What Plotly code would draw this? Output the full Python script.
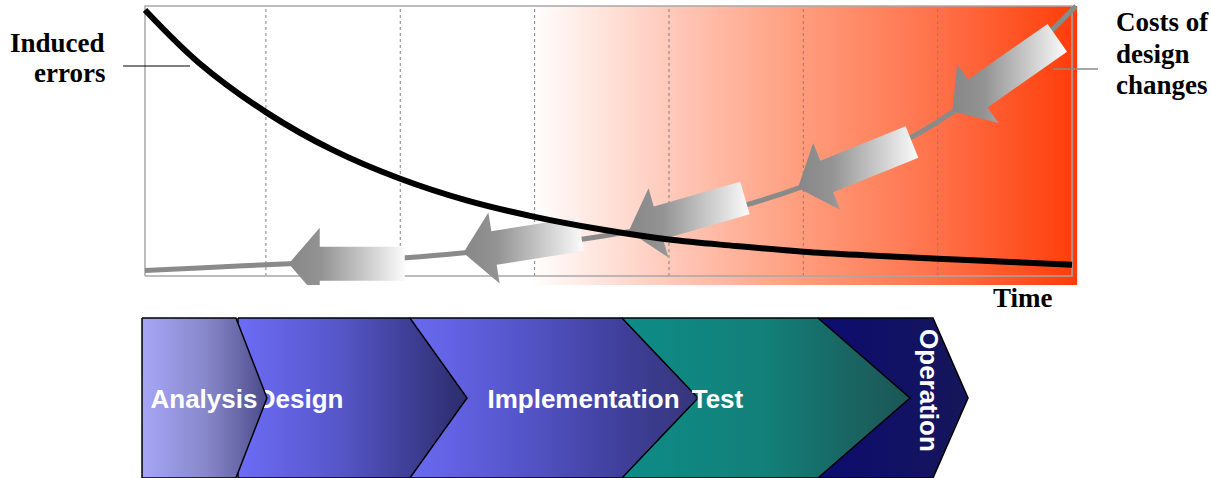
import numpy as np
import plotly.graph_objects as go

# ---------------- data ----------------
time = [0.1, 0.5, 1.0, 1.5, 2.0, 2.5, 3.0, 3.5, 4.0, 4.5, 5.0, 5.5, 6.0, 6.5, 7.0]
induced_errors = [0.985, 0.79, 0.607, 0.466, 0.36, 0.279, 0.219, 0.172, 0.135,
                  0.111, 0.09, 0.076, 0.064, 0.053, 0.042]

cost_time = [0.1, 0.5, 1.0, 1.5, 2.0, 2.5, 3.0, 3.5, 4.0, 4.5, 5.0, 5.5, 6.0, 6.5, 7.03]
design_change_costs = [0.020, 0.030, 0.042, 0.053, 0.066, 0.087, 0.112, 0.147, 0.193,
                       0.253, 0.332, 0.436, 0.571, 0.749, 1.0]

grid_time = [1, 2, 3, 4, 5, 6]
frame_time = [0.1, 7.0]
cost_zone_time = [2.97, 7.04]

arrow_tip_time = [1.17, 2.47, 3.70, 4.96, 6.11]
arrow_angle_deg = [0, 9, 16, 22, 35]
arrow_length_px = [116, 119, 121, 123, 128]

phases = ["Analysis", "Design", "Implementation", "Test", "Operation"]
phase_start = [0.078, 0.792, 2.072, 3.650, 5.109]
phase_end = [0.777, 2.072, 3.650, 5.109, 5.965]
phase_tip = [1.008, 2.497, 4.216, 5.794, 6.226]
phase_label_time = [0.539, 1.255, 3.364, 4.361, 5.935]
phase_colors = [
    [[0, '#a6a6f6'], [0.5, '#8888cc'], [0.75, '#6c6cac'], [1, '#4a4a8a']],
    [[0, '#6c6cf6'], [0.45, '#5656c8'], [0.7, '#42429e'], [1, '#2c2c6c']],
    [[0, '#6a6af2'], [0.4, '#5454c8'], [0.75, '#3e3e98'], [1, '#36367c']],
    [[0, '#0e8c88'], [0.5, '#128078'], [0.8, '#1a6462'], [1, '#1c5656']],
    [[0, '#0c0c70'], [1, '#16165a']],
]

# ---------------- layout geometry ----------------
FIG_W, FIG_H = 1211, 478
X_RANGE = [0.08, 7.04]
Y_RANGE = [-0.0333, 1.0074]
X_DOM_PX = [142.3, 1077.4]
Y_DOM_PX = [4.0, 285.0]          # top, bottom (pixels from top)
PX_PER_T = (X_DOM_PX[1] - X_DOM_PX[0]) / (X_RANGE[1] - X_RANGE[0])
PX_PER_Y = (Y_DOM_PX[1] - Y_DOM_PX[0]) / (Y_RANGE[1] - Y_RANGE[0])

X2_RANGE = [X_RANGE[0] - X_DOM_PX[0] / PX_PER_T,
            X_RANGE[1] + (FIG_W - X_DOM_PX[1]) / PX_PER_T]
Y2_TOP_PX = 316
Y2_RANGE = [0, (FIG_H - Y2_TOP_PX) / 160.0]


def px(xp):
    return xp / FIG_W


def py(yp):
    return 1 - yp / FIG_H


fig = go.Figure()

# red "cost" zone
fig.add_trace(go.Scatter(
    x=[cost_zone_time[0], cost_zone_time[1], cost_zone_time[1], cost_zone_time[0], cost_zone_time[0]],
    y=[Y_RANGE[0], Y_RANGE[0], 1.0, 1.0, Y_RANGE[0]],
    mode='lines', line=dict(width=0), fill='toself',
    fillgradient=dict(type='horizontal',
                      colorscale=[[0, '#ffffff'], [0.25, '#ffcabb'], [0.5, '#ff9c7c'],
                                  [0.75, '#ff7048'], [1, '#ff3c08']]),
    hoverinfo='skip', showlegend=False))

# dashed grid
gx, gy = [], []
for g in grid_time:
    gx += [g, g, None]
    gy += [0, 1, None]
fig.add_trace(go.Scatter(x=gx, y=gy, mode='lines',
                         line=dict(color='#808080', width=1, dash='3px,3px'),
                         hoverinfo='skip', showlegend=False))

# frame
fig.add_trace(go.Scatter(
    x=[frame_time[0], frame_time[0], frame_time[1], frame_time[1], frame_time[0]],
    y=[0, 1, 1, 0, 0], mode='lines',
    line=dict(color='#a8a8a8', width=1.5), hoverinfo='skip', showlegend=False))

# costs of design changes
fig.add_trace(go.Scatter(x=cost_time, y=design_change_costs, mode='lines',
                         line=dict(color='#8a8a8a', width=5, shape='spline'),
                         hoverinfo='skip', showlegend=False))

# arrows
HEAD_LEN, HEAD_HALF, SHAFT_HALF = 31, 36, 17
for t, ang, L in zip(arrow_tip_time, arrow_angle_deg, arrow_length_px):
    ty = float(np.interp(t, cost_time, design_change_costs))
    local = np.array([[0, 0], [HEAD_LEN, HEAD_HALF], [HEAD_LEN, SHAFT_HALF], [L, SHAFT_HALF],
                      [L, -SHAFT_HALF], [HEAD_LEN, -SHAFT_HALF], [HEAD_LEN, -HEAD_HALF], [0, 0]],
                     dtype=float)
    a = np.radians(ang)
    rot = np.array([[np.cos(a), -np.sin(a)], [np.sin(a), np.cos(a)]])
    pts = local @ rot.T
    xs = t + pts[:, 0] / PX_PER_T
    ys = ty + pts[:, 1] / PX_PER_Y
    fig.add_trace(go.Scatter(
        x=xs, y=ys, mode='lines', line=dict(width=0), fill='toself',
        fillgradient=dict(type='horizontal',
                          colorscale=[[0, '#878787'], [0.28, '#939393'], [1, '#fbfbfb']]),
        hoverinfo='skip', showlegend=False))

# induced errors
fig.add_trace(go.Scatter(x=time, y=induced_errors, mode='lines',
                         line=dict(color='black', width=6, shape='spline'),
                         hoverinfo='skip', showlegend=False))

# ---------------- phase chevrons ----------------
label_font = dict(family='Liberation Sans, Arial, sans-serif',
                  size=26, color='white', weight='bold')


def chevron(i):
    s, e, tp = phase_start[i], phase_end[i], phase_tip[i]
    fig.add_trace(go.Scatter(
        x=[s, e, tp, e, s, s], y=[1, 1, 0.5, 0, 0, 1],
        mode='lines', line=dict(color='black', width=1.5), fill='toself',
        fillgradient=dict(type='horizontal', colorscale=phase_colors[i]),
        xaxis='x2', yaxis='y2', hoverinfo='skip', showlegend=False))


def phase_text(i):
    fig.add_trace(go.Scatter(
        x=[phase_label_time[i]], y=[0.48], mode='text', text=[phases[i]],
        textposition='middle center', textfont=label_font,
        xaxis='x2', yaxis='y2', hoverinfo='skip', showlegend=False))


for i in [4, 3, 2, 1]:
    chevron(i)
phase_text(1)
chevron(0)
for i in [0, 2, 3]:
    phase_text(i)

annotations = [
    dict(x=phase_label_time[4], y=0.544, xref='x2', yref='y2', text=phases[4],
         textangle=90, showarrow=False, font=label_font, xanchor='center', yanchor='middle'),
]

serif = dict(family='Liberation Serif, Times New Roman, serif', size=27, color='black',
             weight='bold')
for txt, xp, yp, anc in [("Induced", 107, 43, 'right'), ("errors", 107, 73, 'right'),
                          ("Costs of", 1114, 22, 'left'), ("design", 1114, 54, 'left'),
                          ("changes", 1114, 85, 'left'), ("Time", 1023, 298, 'center')]:
    annotations.append(dict(x=px(xp), y=py(yp), xref='paper', yref='paper', text=txt,
                            showarrow=False, font=serif, xanchor=anc, yanchor='middle'))

shapes = [
    dict(type='line', xref='paper', yref='paper', x0=px(123), x1=px(190), y0=py(66), y1=py(66),
         line=dict(color='black', width=1)),
    dict(type='line', xref='paper', yref='paper', x0=px(1053), x1=px(1098), y0=py(69), y1=py(69),
         line=dict(color='#8a8a8a', width=1.5)),
]

fig.update_layout(
    width=FIG_W, height=FIG_H, autosize=False,
    margin=dict(l=0, r=0, t=0, b=0),
    paper_bgcolor='white', plot_bgcolor='rgba(0,0,0,0)',
    showlegend=False, hovermode=False,
    xaxis=dict(domain=[px(X_DOM_PX[0]), px(X_DOM_PX[1])], range=X_RANGE, visible=False,
               fixedrange=True),
    yaxis=dict(domain=[py(Y_DOM_PX[1]), py(Y_DOM_PX[0])], range=Y_RANGE, visible=False,
               fixedrange=True),
    xaxis2=dict(domain=[0, 1], range=X2_RANGE, visible=False, anchor='y2', fixedrange=True),
    yaxis2=dict(domain=[0, py(Y2_TOP_PX)], range=Y2_RANGE, visible=False, anchor='x2',
                fixedrange=True),
    annotations=annotations, shapes=shapes,
)

fig.write_html("out.html", config={'displayModeBar': False},
               post_script="document.body.style.margin='0px';document.body.style.overflow='hidden';")
